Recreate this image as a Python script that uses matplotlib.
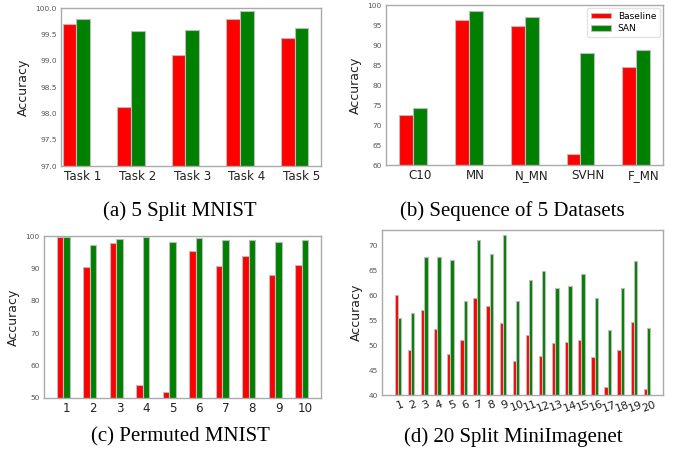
import numpy as np
import matplotlib.pyplot as plt

# (a) 5 Split MNIST
tasks_a = ["Task 1", "Task 2", "Task 3", "Task 4", "Task 5"]
base_a = [99.69, 98.13, 99.11, 99.80, 99.44]
san_a = [99.79, 99.56, 99.58, 99.95, 99.63]

# (b) Sequence of 5 Datasets
sets_b = ["C10", "MN", "N_MN", "SVHN", "F_MN"]
base_b = [72.4, 96.3, 94.7, 62.8, 84.6]
san_b = [74.2, 98.6, 97.1, 88.1, 88.8]

# (c) Permuted MNIST
tasks_c = [str(i) for i in range(1, 11)]
base_c = [99.6, 90.4, 97.8, 54.1, 51.7, 95.5, 90.6, 93.9, 88.0, 91.0]
san_c = [99.6, 97.2, 99.1, 99.8, 98.1, 99.4, 98.9, 98.7, 98.2, 98.9]

# (d) 20 Split MiniImagenet
tasks_d = [str(i) for i in range(1, 21)]
base_d = [60.0, 49.0, 57.0, 53.2, 48.2, 51.0, 59.4, 57.8, 54.4, 46.8,
          52.0, 47.8, 50.4, 50.6, 51.0, 47.6, 41.7, 49.0, 54.6, 41.2]
san_d = [55.4, 56.4, 67.7, 67.7, 67.0, 58.8, 71.1, 68.3, 72.1, 58.8,
         63.0, 64.8, 61.4, 61.8, 64.2, 59.4, 53.0, 61.4, 66.9, 53.4]

w = 0.25
edge = "#bbbbbb"

fig = plt.figure(figsize=(6.79, 4.59), dpi=100)


def panel(rect, labels, base, san, ylim, yticks, yfmt, rot=0, xfs=8.6):
    ax = fig.add_axes(rect)
    x = np.arange(len(labels))
    ax.bar(x, base, w, color="#ff0000", edgecolor=edge, linewidth=0.8, label="Baseline")
    ax.bar(x + w, san, w, color="#008000", edgecolor=edge, linewidth=0.8, label="SAN")
    ax.set_xticks(x + w)
    ax.set_xticklabels(labels, fontsize=xfs, color="#222222", rotation=rot)
    ax.set_ylim(*ylim)
    ax.set_yticks(yticks)
    ax.set_yticklabels([yfmt % v for v in yticks], fontsize=5.3, color="#555555")
    ax.set_ylabel("Accuracy", fontsize=9, color="#222222")
    ax.tick_params(length=0, pad=3)
    for s in ax.spines.values():
        s.set_color("#aaaaaa")
        s.set_linewidth(1.0)
    return ax


ax_a = panel([0.0898, 0.6383, 0.383, 0.3442], tasks_a, base_a, san_a,
             (97, 100), np.arange(97, 100.01, 0.5), "%.1f")
ax_a.set_xlim(-0.156, 4.61)

ax_b = panel([0.5685, 0.6405, 0.408, 0.3486], sets_b, base_b, san_b,
             (60, 100), np.arange(60, 101, 5), "%d")
ax_b.legend(loc="upper right", fontsize=6.5, frameon=True, edgecolor="#dddddd",
            fancybox=True, handlelength=2.2, handleheight=0.6,
            borderaxespad=0.35, labelspacing=0.4)

ax_c = panel([0.0648, 0.1329, 0.408, 0.3529], tasks_c, base_c, san_c,
             (50, 100), np.arange(50, 101, 10), "%d")

ax_d = panel([0.5626, 0.1394, 0.4138, 0.3595], tasks_d, base_d, san_d,
             (40, 73.1), np.arange(40, 71, 5), "%d", rot=20, xfs=8)

cap = dict(fontsize=15, family="Liberation Serif", ha="center", va="center")
fig.text(180 / 679, 1 - 211 / 459, "(a) 5 Split MNIST", **cap)
fig.text(512 / 679, 1 - 211 / 459, "(b) Sequence of 5 Datasets", **cap)
fig.text(180 / 679, 1 - 437 / 459, "(c) Permuted MNIST", **cap)
fig.text(513 / 679, 1 - 437 / 459, "(d) 20 Split MiniImagenet", **cap)

fig.savefig("out.png", dpi=100)
